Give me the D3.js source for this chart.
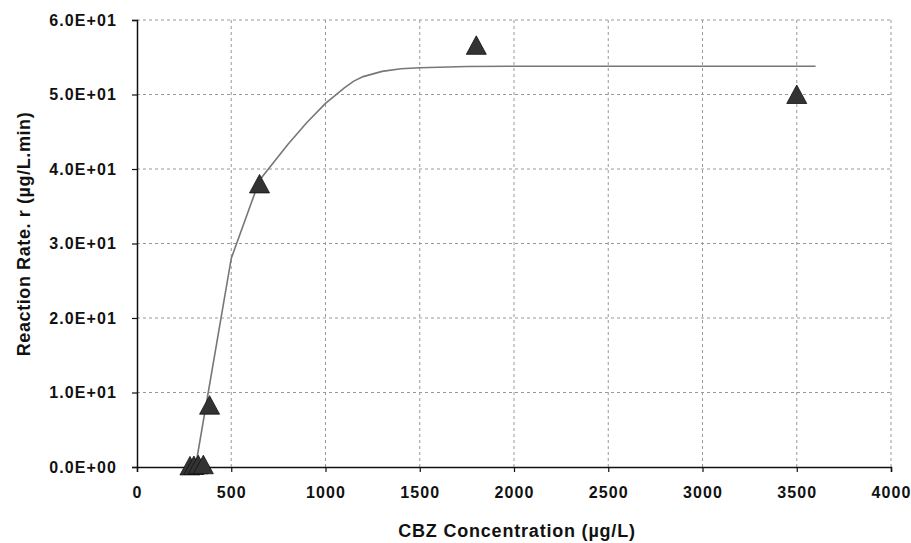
<html><head>
<script src="https://cdnjs.cloudflare.com/ajax/libs/d3/7.8.5/d3.min.js"></script>
<style>
  body { margin: 0; background: white; }
  .tick text { font-family: "Liberation Sans", Arial, sans-serif; font-weight: bold; font-size: 16px; letter-spacing: 1.1px; fill: #111; }
  .title { font-family: "Liberation Sans", Arial, sans-serif; font-weight: bold; font-size: 18px; fill: #111; }
</style>
</head>
<body>
<div id="chart"></div>
<script>
// measured points
var concData = [281, 302, 325, 352, 385, 650, 1800, 3500];
var rateData = [0.15, 0.2, 0.3, 0.3, 8.3, 38.0, 56.6, 50.0];

// fitted model line
var fitConc = [310, 500, 650, 800, 900, 1000, 1100, 1150, 1200, 1300, 1400, 1500, 1750, 2000, 3600];
var fitRate = [0.0, 28.0, 38.5, 43.3, 46.2, 48.8, 50.9, 51.8, 52.4, 53.1, 53.45, 53.6, 53.75, 53.8, 53.8];

var xTicks = [0, 500, 1000, 1500, 2000, 2500, 3000, 3500, 4000];
var yTicks = [0, 10, 20, 30, 40, 50, 60];
var yLabels = ["0.0E+00", "1.0E+01", "2.0E+01", "3.0E+01", "4.0E+01", "5.0E+01", "6.0E+01"];

var W = 911, H = 543;
var margin = {top: 20, right: 20, bottom: 76, left: 137};
var width = 891 - margin.left, height = 467 - margin.top;

var svg = d3.select("#chart").append("svg")
  .attr("width", W)
  .attr("height", H);
var g = svg.append("g")
  .attr("transform", "translate(" + margin.left + "," + margin.top + ")");

var x = d3.scaleLinear().domain([0, 4000]).range([0, width]);
var y = d3.scaleLinear().domain([0, 60]).range([height, 0]);

// dotted grid
g.selectAll(".vgrid").data(xTicks.slice(1)).enter().append("line")
  .attr("x1", d => x(d)).attr("x2", d => x(d))
  .attr("y1", 0).attr("y2", height)
  .style("stroke", "#999").style("stroke-width", 1).style("stroke-dasharray", "3,3");
g.selectAll(".hgrid").data(yTicks.slice(1)).enter().append("line")
  .attr("x1", 0).attr("x2", width)
  .attr("y1", d => y(d)).attr("y2", d => y(d))
  .style("stroke", "#999").style("stroke-width", 1).style("stroke-dasharray", "3,3");

// axes
var xAxis = g.append("g")
  .attr("transform", "translate(0," + height + ")")
  .call(d3.axisBottom(x).tickValues(xTicks).tickSize(5).tickPadding(15).tickFormat(d3.format("d")));
var yAxis = g.append("g")
  .call(d3.axisLeft(y).tickValues(yTicks).tickSize(5).tickPadding(15)
    .tickFormat((d, i) => yLabels[i]));
[xAxis, yAxis].forEach(a => {
  a.select(".domain").style("stroke", "#111").style("stroke-width", 1.5);
  a.selectAll(".tick line").style("stroke", "#111").style("stroke-width", 1.2);
});

// fitted line
var fit = fitConc.map((c, i) => ({c: c, r: fitRate[i]}));
g.append("path")
  .datum(fit)
  .attr("fill", "none")
  .attr("stroke", "#777")
  .attr("stroke-width", 1.6)
  .attr("d", d3.line().x(d => x(d.c)).y(d => y(d.r)));

// triangles
var pts = concData.map((c, i) => ({c: c, r: rateData[i]}));
g.selectAll(".pt").data(pts).enter().append("path")
  .attr("d", "M0,-9.5L10,9L-10,9Z")
  .attr("transform", d => "translate(" + x(d.c) + "," + y(d.r) + ")")
  .style("fill", "#333")
  .style("stroke", "#111")
  .style("stroke-width", 0.8);

// titles
svg.append("text").attr("class", "title")
  .attr("x", 517).attr("y", 537)
  .attr("text-anchor", "middle")
  .style("letter-spacing", "0.8px")
  .text("CBZ Concentration (µg/L)");
svg.append("text").attr("class", "title")
  .attr("transform", "translate(30,234) rotate(-90)")
  .attr("text-anchor", "middle")
  .style("letter-spacing", "0.6px")
  .text("Reaction Rate. r (µg/L.min)");
</script>
</body></html>
